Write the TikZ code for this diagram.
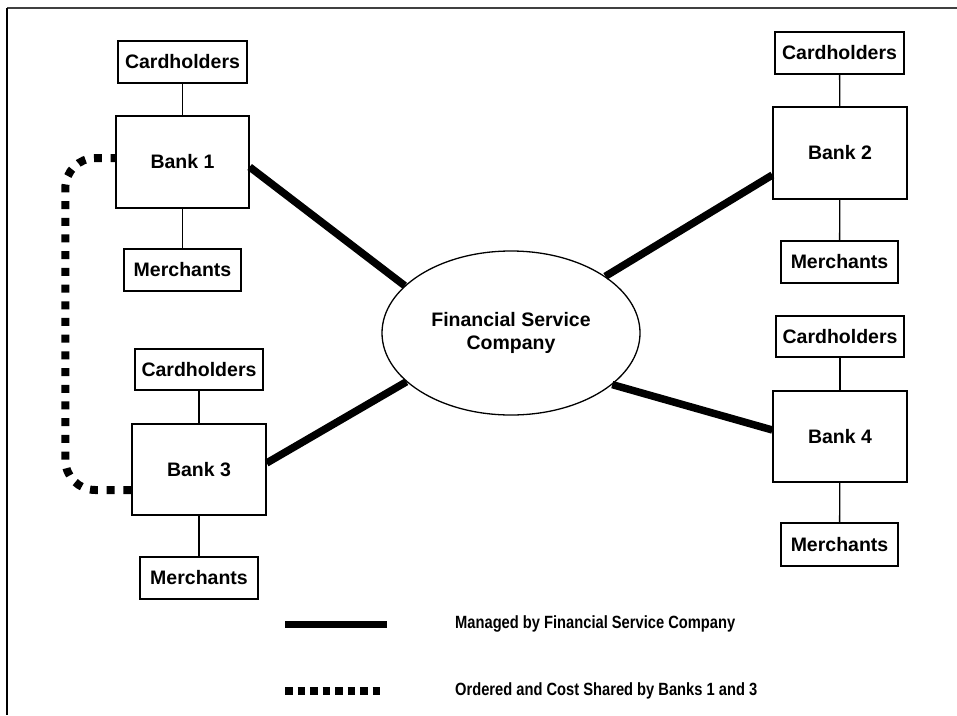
\documentclass[tikz,border=0pt]{standalone}
\usepackage{fontspec}
\setmainfont{Liberation Sans}
\newfontfamily\legendfont[FakeStretch=0.83]{Liberation Sans}
\usetikzlibrary{shapes.geometric}

\begin{document}
\begin{tikzpicture}[x=1pt,y=-1pt,
  box/.style={draw,line width=1.3pt,inner sep=0pt,
    font=\fontsize{19.5}{22}\selectfont\bfseries},
  party/.style={box,minimum height=42pt},
  bankbox/.style={box,minimum width=134pt,minimum height=92pt},
  hub/.style={ellipse,draw,line width=1.3pt,inner sep=0pt,
    minimum width=258pt,minimum height=164pt,align=center,
    font=\fontsize{19.5}{23}\selectfont\bfseries},
  link/.style={line width=1.3pt},
  managed/.style={line width=7.5pt},
  shared/.style={line width=8pt,dash pattern=on 8pt off 8.7pt},
  legendline/.style={line width=7pt},
  legenddots/.style={line width=7.5pt,dash pattern=on 7.5pt off 5pt},
  legendtext/.style={inner sep=0pt,anchor=west,
    font=\legendfont\fontsize{17.7}{20}\selectfont\bfseries},
  frameline/.style={line width=1.5pt}
]
\useasboundingbox (0,0) rectangle (957,715);

% frame
\coordinate (fc) at (7,8);
\coordinate (fr) at (957,8);
\coordinate (fb) at (7,715);
\draw[frameline,black!75] (fc) -- (fr);
\draw[frameline] (fc) -- (fb);

% central company
\node[hub] (fsc) at (511,333) {Financial Service\\Company};

% bank 1 group
\node[party,minimum width=129pt] (ch1) at (182.5,62) {Cardholders};
\node[bankbox,minimum width=133pt] (b1) at (182.5,162) {Bank 1};
\node[party,minimum width=117pt] (m1) at (182.5,270) {Merchants};

% bank 3 group
\node[party,minimum width=128pt,minimum height=41pt] (ch3) at (199,369.5) {Cardholders};
\node[bankbox,minimum height=91pt] (b3) at (199,469.5) {Bank 3};
\node[party,minimum width=118pt] (m3) at (199,578) {Merchants};

% bank 2 group
\node[party,minimum width=129pt] (ch2) at (839.5,53) {Cardholders};
\node[bankbox] (b2) at (840,153) {Bank 2};
\node[party,minimum width=117pt] (m2) at (839.5,262) {Merchants};

% bank 4 group
\node[party,minimum width=128pt,minimum height=41pt] (ch4) at (840,336.5) {Cardholders};
\node[bankbox,minimum height=91pt] (b4) at (840,436.5) {Bank 4};
\node[party,minimum width=117pt,minimum height=43pt] (m4) at (839.5,544.5) {Merchants};

% thin links
\draw[link] (ch1) -- (b1);
\draw[link] (b1) -- (m1);
\draw[link] (ch3) -- (b3);
\draw[link] (b3) -- (m3);
\draw[link] (ch2) -- (b2);
\draw[link] (b2) -- (m2);
\draw[link] (ch4) -- (b4);
\draw[link] (b4) -- (m4);

% managed connections
\draw[managed] ([yshift=-5pt]b1.east) -- (fsc.156);
\draw[managed] ([yshift=-22pt]b2.west) -- (fsc.31);
\draw[managed] ([yshift=6.5pt]b3.east) -- (fsc.205.7);
\draw[managed] ([yshift=6.5pt]b4.west) -- (fsc.333.9);

% shared connection between banks 1 and 3
\draw[shared,rounded corners=30pt]
  ([yshift=-20.5pt]b3.west) -- ++(-66,0) -- ++(0,-332) -- ([yshift=4pt]b1.west);

% legend
\coordinate (ms) at (285,624);
\coordinate (me) at (387,624);
\draw[legendline] (ms) -- (me);
\node[legendtext] (mt) at (455,624) {Managed by Financial Service Company};

\coordinate (ds) at (285,691);
\coordinate (de) at (381,691);
\draw[legenddots] (ds) -- (de);
\node[legendtext] (dt) at (455,691) {Ordered and Cost Shared by Banks 1 and 3};
\end{tikzpicture}
\end{document}
